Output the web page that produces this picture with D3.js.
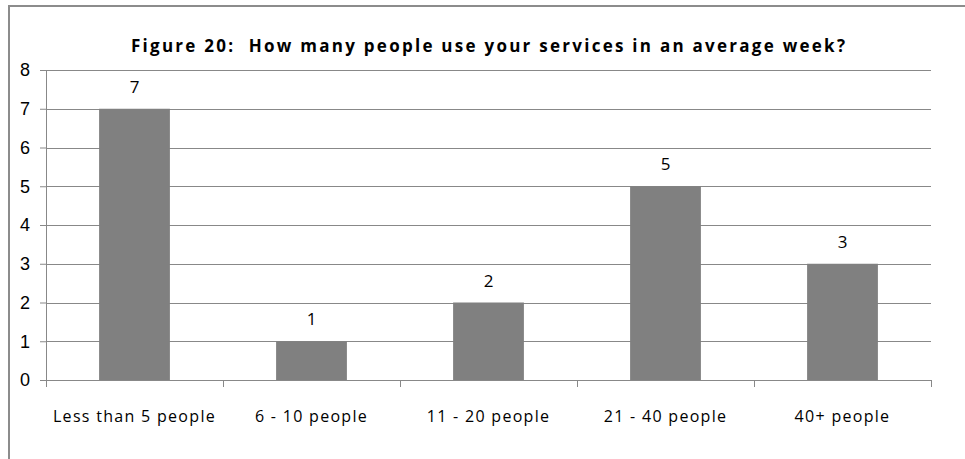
<!DOCTYPE html>
<html>
<head>
<meta charset="utf-8">
<script src="https://cdn.jsdelivr.net/npm/d3@7"></script>
<style>
  body { margin: 0; background: #fff; }
  svg { display: block; font-family: "Open Sans", "Noto Sans", sans-serif; }
</style>
</head>
<body>
<div id="chart"></div>
<script>
"use strict";

// Données : nombre de réponses par tranche
const categories = ["Less than 5 people", "6 - 10 people", "11 - 20 people", "21 - 40 people", "40+ people"];
const values = [7, 1, 2, 5, 3];
const yTicks = [0, 1, 2, 3, 4, 5, 6, 7, 8];
const title = "Figure 20:  How many people use your services in an average week?";

const svgWidth = 965;
const svgHeight = 459;
const margin = { top: 70, right: 34, bottom: 79, left: 46 };
const width = svgWidth - margin.left - margin.right;
const height = svgHeight - margin.top - margin.bottom;

const svg = d3.select("#chart")
    .append("svg")
    .attr("width", svgWidth)
    .attr("height", svgHeight);

// Cadre du graphique
svg.append("path")
    .attr("d", `M9,${svgHeight} V6 H${svgWidth}`)
    .attr("fill", "none")
    .attr("stroke", "#8c8c8c")
    .attr("stroke-width", 2);

const g = svg.append("g")
    .attr("transform", `translate(${margin.left},${margin.top})`);

const xScale = d3.scaleBand()
    .domain(categories)
    .range([0, width])
    .padding(0);

const yScale = d3.scaleLinear()
    .domain([0, 8])
    .range([height, 0]);

// Lignes horizontales
g.selectAll(".grid")
    .data(yTicks.filter(d => d > 0))
    .enter().append("line")
    .attr("class", "grid")
    .attr("x1", 0)
    .attr("x2", width)
    .attr("y1", d => Math.round(yScale(d)) + 0.5)
    .attr("y2", d => Math.round(yScale(d)) + 0.5)
    .attr("stroke", "#888")
    .attr("stroke-width", 1);

// Axe Y
const yAxis = g.append("g")
    .call(d3.axisLeft(yScale).tickValues(yTicks).tickSize(6).tickPadding(14));
yAxis.select(".domain").attr("stroke", "#888");
yAxis.selectAll(".tick line").attr("stroke", "#888");
yAxis.selectAll(".tick text")
    .attr("fill", "#000")
    .attr("font-size", 18)
    .attr("text-anchor", "middle")
    .attr("x", -21);

// Barres
const barWidth = xScale.bandwidth() * 0.4;
g.selectAll(".bar")
    .data(values)
    .enter().append("rect")
    .attr("class", "bar")
    .attr("x", (d, i) => xScale(categories[i]) + (xScale.bandwidth() - barWidth) / 2)
    .attr("y", d => yScale(d))
    .attr("width", barWidth)
    .attr("height", d => height - yScale(d))
    .attr("fill", "#808080");

// Valeurs au-dessus des barres
g.selectAll(".label")
    .data(values)
    .enter().append("text")
    .attr("class", "label")
    .attr("x", (d, i) => xScale(categories[i]) + xScale.bandwidth() / 2)
    .attr("y", d => yScale(d) - 16)
    .attr("text-anchor", "middle")
    .attr("font-size", 17)
    .attr("fill", "#000")
    .text(d => d);

// Axe X avec graduations aux limites des catégories
const xAxis = g.append("g")
    .attr("transform", `translate(0,${height})`);
xAxis.append("line")
    .attr("x1", 0).attr("x2", width)
    .attr("y1", 0.5).attr("y2", 0.5)
    .attr("stroke", "#888");
xAxis.selectAll(".xtick")
    .data(d3.range(categories.length + 1))
    .enter().append("line")
    .attr("class", "xtick")
    .attr("x1", i => Math.round(i * xScale.step()) + 0.5)
    .attr("x2", i => Math.round(i * xScale.step()) + 0.5)
    .attr("y1", 0).attr("y2", 7)
    .attr("stroke", "#888");
xAxis.selectAll(".xlabel")
    .data(categories)
    .enter().append("text")
    .attr("class", "xlabel")
    .attr("x", d => xScale(d) + xScale.bandwidth() / 2)
    .attr("y", 42)
    .attr("text-anchor", "middle")
    .attr("font-size", 16)
    .attr("letter-spacing", "1.3px")
    .attr("fill", "#000")
    .text(d => d);

// Titre
svg.append("text")
    .attr("x", 488)
    .attr("y", 52)
    .attr("text-anchor", "middle")
    .attr("font-size", 17)
    .attr("font-weight", "bold")
    .attr("textLength", 714)
    .attr("lengthAdjust", "spacing")
    .style("white-space", "pre")
    .attr("fill", "#000")
    .text(title);
</script>
</body>
</html>
